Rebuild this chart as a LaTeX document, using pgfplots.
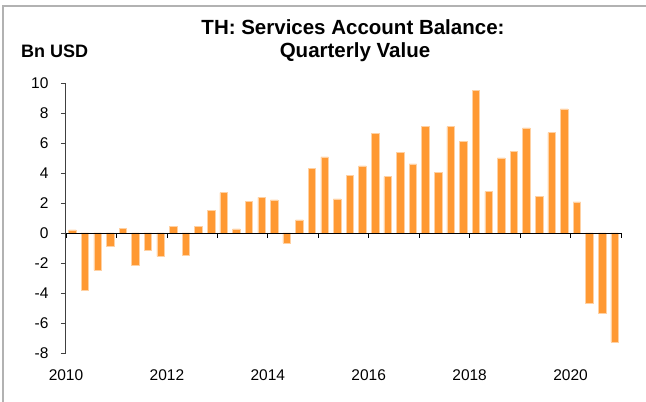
\documentclass[border=0pt]{standalone}
\usepackage{pgfplots}
\pgfplotsset{compat=1.18}
\usepackage{fontspec}
\setmainfont{Liberation Sans}
\definecolor{barorange}{RGB}{255,153,51}
\begin{document}
\begin{tikzpicture}[x=1pt,y=1pt]
\path[use as bounding box] (0,0) rectangle (646,402);
\draw[gray!60, line width=1.3pt] (3,0) -- (3,396) -- (646,396);
\node[anchor=base, inner sep=0pt, font=\fontsize{20.5}{24}\selectfont\bfseries] at (353,367) {TH: Services Account Balance:};
\node[anchor=base, inner sep=0pt, font=\fontsize{20.5}{24}\selectfont\bfseries] at (355,344) {Quarterly Value};
\node[anchor=base west, inner sep=0pt, font=\fontsize{18}{21}\selectfont\bfseries] at (21,344) {Bn USD};
\begin{axis}[
 at={(66pt,49pt)}, anchor=south west, scale only axis, width=555pt, height=270pt,
 xmin=0, xmax=44, ymin=-8, ymax=10,
 axis y line*=left, axis x line*=bottom, x axis line style={draw=none},
 ytick={-8,-6,...,10}, xtick={0,8,...,40}, xticklabels={2010,2012,2014,2016,2018,2020},
 xtick style={draw=none}, ytick style={gray!50!black, line width=0.8pt},
 tick align=outside, major tick length=5pt,
 y axis line style={gray!50!black, line width=1pt, -},
 tick label style={font=\fontsize{15.5}{18}\selectfont},
 /pgf/number format/assume math mode=true,
 xticklabel style={anchor=north, yshift=-8pt},
 yticklabel style={xshift=-9pt},
 ybar, bar width=7.5pt, bar shift=0pt,
 clip=false,
]
\addplot[fill=barorange, draw=barorange!45, line width=0.5pt] coordinates {
(0.5,0.2) (1.5,-3.85) (2.5,-2.49) (3.5,-0.87)
(4.5,0.33) (5.5,-2.18) (6.5,-1.13) (7.5,-1.56)
(8.5,0.42) (9.5,-1.49) (10.5,0.42) (11.5,1.53)
(12.5,2.69) (13.5,0.27) (14.5,2.09) (15.5,2.38)
(16.5,2.2) (17.5,-0.67) (18.5,0.87) (19.5,4.31)
(20.5,5.07) (21.5,2.27) (22.5,3.82) (23.5,4.47)
(24.5,6.62) (25.5,3.75) (26.5,5.35) (27.5,4.6)
(28.5,7.09) (29.5,4.04) (30.5,7.09) (31.5,6.09)
(32.5,9.49) (33.5,2.75) (34.5,5.0) (35.5,5.42)
(36.5,7.0) (37.5,2.44) (38.5,6.69) (39.5,8.27)
(40.5,2.07) (41.5,-4.67) (42.5,-5.33) (43.5,-7.27)
};
\draw[black, line width=0.9pt] (axis cs:0,0) -- (axis cs:44,0);
\pgfplotsinvokeforeach{0,4,...,44}{\draw[black, line width=0.8pt] (axis cs:#1,0) -- ++(0pt,-5pt);}
\end{axis}
\end{tikzpicture}
\end{document}
